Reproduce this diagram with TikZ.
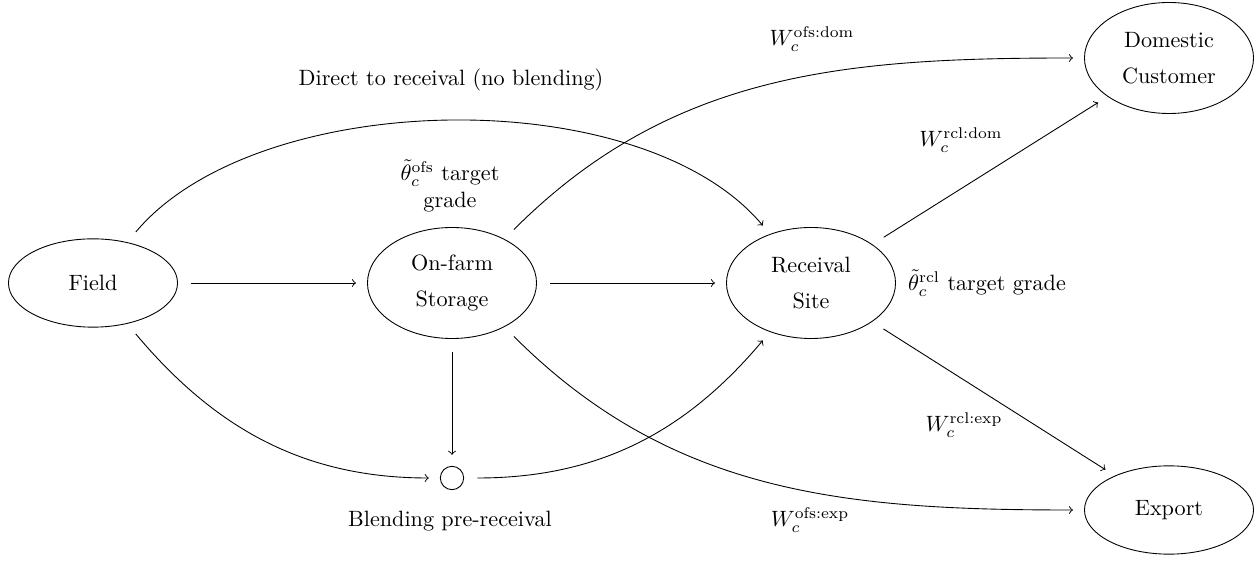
\documentclass[tikz,border=0pt]{standalone}
\usetikzlibrary{shapes.geometric}
\begin{document}
\begin{tikzpicture}[x=0.01585cm,y=0.01585cm,
  place/.style={draw,ellipse,inner sep=1pt,minimum width=2.68cm,minimum height=1.76cm,align=center},
  place1/.style={draw,ellipse,inner sep=1pt,minimum width=2.68cm,minimum height=1.40cm},
  blend/.style={draw,circle,minimum size=0.37cm,inner sep=0pt},
  flow/.style={->,shorten <=6pt,shorten >=5pt},
  lbl/.style={inner sep=0pt,align=center}]
\useasboundingbox (0,0) rectangle (1258,561);
\node[place1] (field) at (93,278) {Field};
\node[place] (ofs) at (452,278) {On-farm\\[4.5pt]Storage};
\node[place] (rcl) at (811,278) {Receival\\[4.5pt]Site};
\node[place] (dom) at (1169,503) {Domestic\\[4.5pt]Customer};
\node[place1] (exp) at (1169,51) {Export};
\node[blend] (bl) at (452,83) {};

\draw[flow] (field) -- (ofs);
\draw[flow] (ofs) -- (rcl);
\draw[flow] (rcl) -- (dom);
\draw[flow] (rcl) -- (exp);
\draw[flow] (ofs) -- (bl);
\draw[flow] (field.50) to[out=50,in=130,looseness=0.8] (rcl.130);
\draw[flow] (field.-50) to[out=-50,in=180] (bl.west);
\draw[flow] (bl.east) to[out=0,in=-130] (rcl.-130);
\draw[flow] (ofs.40) to[out=45,in=180] (dom.west);
\draw[flow] (ofs.-40) to[out=-45,in=180] (exp.west);

\node[lbl] (ldirect) at (451,481) {Direct to receival (no blending)};
\node[lbl] (ltofs) at (450,375) {$\tilde{\theta}_c^{\mathrm{ofs}}$ target\\grade};
\node[lbl] (ltrcl) at (987,278) {$\tilde{\theta}_c^{\mathrm{rcl}}$ target grade};
\node[lbl] (lofsdom) at (812,522) {$W_c^{\mathrm{ofs:dom}}$};
\node[lbl] (lrcldom) at (961,421) {$W_c^{\mathrm{rcl:dom}}$};
\node[lbl] (lrclexp) at (964,136) {$W_c^{\mathrm{rcl:exp}}$};
\node[lbl] (lofsexp) at (810,41) {$W_c^{\mathrm{ofs:exp}}$};
\node[lbl] (lblend) at (450,40) {Blending pre-receival};
\end{tikzpicture}
\end{document}
